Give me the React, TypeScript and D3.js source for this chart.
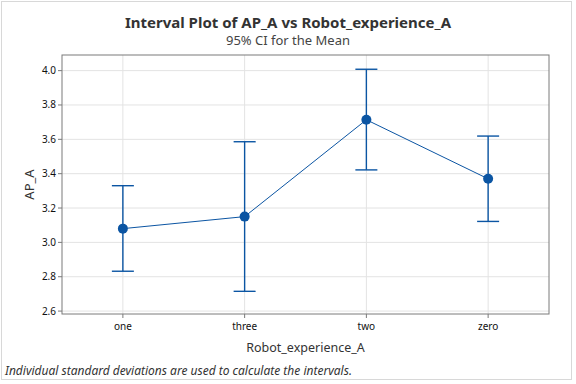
import React from "react";
import * as d3 from "d3";

const categories = ["one", "three", "two", "zero"];
const means = [3.08, 3.15, 3.714, 3.37];
const lower = [2.832, 2.715, 3.422, 3.122];
const upper = [3.33, 3.586, 4.008, 3.619];
const yTicks = [2.6, 2.8, 3.0, 3.2, 3.4, 3.6, 3.8, 4.0];

const W = 576;
const H = 384;
const left = 62;
const right = 549;
const top = 55;
const bottom = 314;
const blue = "#0b55a3";
const font = "'Noto Sans', 'Open Sans', sans-serif";

const App = () => {
  const x = d3.scalePoint<string>().domain(categories).range([left, right]).padding(0.5);
  const y = d3.scaleLinear().domain([2.583, 4.091]).range([bottom, top]);

  const line = d3
    .line<number>()
    .x((d, i) => x(categories[i]) as number)
    .y((d) => y(d));

  return (
    <svg width={W} height={H} style={{ position: "absolute", left: 0, top: 0, background: "#fff" }} fontFamily={font}>
      <rect x={1.5} y={1.5} width={570} height={378} fill="#fff" stroke="#d8d8d8" />
      <text x={288} y={28} textAnchor="middle" fontSize={15} fontWeight="bold" fill="#333">
        Interval Plot of AP_A vs Robot_experience_A
      </text>
      <text x={288} y={45} textAnchor="middle" fontSize={13} fill="#444">
        95% CI for the Mean
      </text>

      {/* grid */}
      {yTicks.map((t) => (
        <line key={"gy" + t} x1={left} x2={right} y1={y(t)} y2={y(t)} stroke="#e3e3e3" />
      ))}
      {categories.map((c) => (
        <line key={"gx" + c} x1={x(c)} x2={x(c)} y1={top} y2={bottom} stroke="#e3e3e3" />
      ))}
      <rect x={left} y={top} width={right - left} height={bottom - top} fill="none" stroke="#7a7a7a" />

      {/* y axis */}
      {yTicks.map((t) => (
        <g key={"ty" + t}>
          <line x1={left - 4} x2={left} y1={y(t)} y2={y(t)} stroke="#7a7a7a" />
          <text x={left - 6} y={y(t)} dy="0.35em" textAnchor="end" fontSize={10} fill="#111">
            {d3.format(".1f")(t)}
          </text>
        </g>
      ))}
      <text transform={`translate(34,${(top + bottom) / 2}) rotate(-90)`} textAnchor="middle" fontSize={13} fill="#333">
        AP_A
      </text>

      {/* x axis */}
      {categories.map((c) => (
        <g key={"tx" + c}>
          <line x1={x(c)} x2={x(c)} y1={bottom} y2={bottom + 4} stroke="#7a7a7a" />
          <text x={x(c)} y={bottom + 16} textAnchor="middle" fontSize={10} fill="#111">
            {c}
          </text>
        </g>
      ))}
      <text x={(left + right) / 2} y={352} textAnchor="middle" fontSize={12.5} fill="#333">
        Robot_experience_A
      </text>

      {/* intervals */}
      {categories.map((c, i) => {
        const cx = x(c) as number;
        return (
          <g key={"iv" + c} stroke={blue} strokeWidth={1.4}>
            <line x1={cx} x2={cx} y1={y(lower[i])} y2={y(upper[i])} />
            <line x1={cx - 11} x2={cx + 11} y1={y(lower[i])} y2={y(lower[i])} />
            <line x1={cx - 11} x2={cx + 11} y1={y(upper[i])} y2={y(upper[i])} />
          </g>
        );
      })}
      <path d={line(means) ?? ""} fill="none" stroke={blue} strokeWidth={1} />
      {categories.map((c, i) => (
        <circle key={"m" + c} cx={x(c)} cy={y(means[i])} r={5} fill={blue} />
      ))}

      <text x={5} y={375} fontSize={12} fontStyle="italic" fill="#333">
        Individual standard deviations are used to calculate the intervals.
      </text>
    </svg>
  );
};

export default App;
